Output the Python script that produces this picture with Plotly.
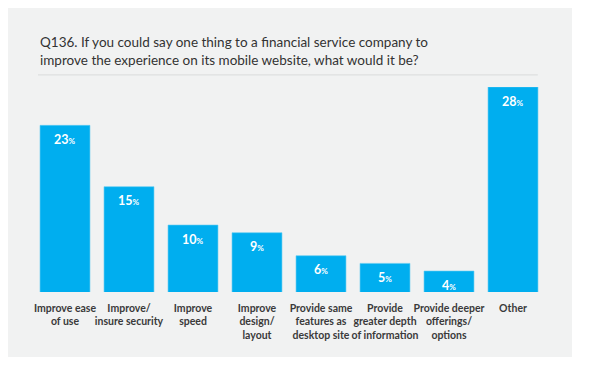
import plotly.graph_objects as go

categories = [
    "Improve ease<br>of use",
    "Improve/<br>insure security",
    "Improve<br>speed",
    "Improve<br>design/<br>layout",
    "Provide same<br>features as<br>desktop site",
    "Provide<br>greater depth<br>of information",
    "Provide deeper<br>offerings/<br>options",
    "Other",
]
values = [23, 15, 10, 9, 6, 5, 4, 28]

title_text = ("Q136. If you could say one thing to a financial service company to<br>"
              "improve the experience on its mobile website, what would it be?")

BAR = "#00AEEF"
PANEL = "#F1F2F2"
FONT = "Lato"

fig = go.Figure()
fig.add_trace(go.Bar(
    x=categories, y=values,
    marker=dict(color=BAR, line=dict(color="#5CCBF2", width=0.6)),
    hoverinfo="skip",
))

# value labels inside bars
for c, v in zip(categories, values):
    fig.add_annotation(
        x=c, y=v, xref="x", yref="y",
        text=f"<b>{v}<span style='font-size:8px'>%</span></b>",
        showarrow=False, yanchor="middle", yshift=-14,
        font=dict(family=FONT, size=12.5, color="white"),
    )

# title
fig.add_annotation(
    x=0.0098, y=1.27, xref="paper", yref="paper",
    xanchor="left", yanchor="top", align="left",
    text=title_text, showarrow=False,
    font=dict(family=FONT, size=13.5, color="#333333"),
)

shapes = [
    dict(type="rect", xref="paper", yref="paper", x0=-0.0488, x1=1.0527,
         y0=-0.317, y1=1.385, fillcolor=PANEL, line=dict(width=0), layer="below"),
    dict(type="line", xref="paper", yref="paper", x0=0.0098, x1=0.986,
         y0=1.059, y1=1.059, line=dict(color="#D9DBDB", width=1), layer="below"),
]

fig.update_layout(
    width=600, height=369,
    margin=dict(l=33, r=55, t=87, b=77, autoexpand=False),
    paper_bgcolor="white", plot_bgcolor="rgba(0,0,0,0)",
    shapes=shapes, bargap=0.22, showlegend=False,
    xaxis=dict(showgrid=False, showline=False, zeroline=False, ticks="",
               tickangle=0, automargin=False, ticklabelstandoff=8,
               tickfont=dict(family=FONT, size=10.5, color="#3a3a3a", weight="bold"),
               fixedrange=True),
    yaxis=dict(visible=False, range=[1.27, 28], fixedrange=True),
)

fig.write_html("out.html",
               config={"displayModeBar": False, "staticPlot": True},
               post_script="document.body.style.margin='0';document.body.style.overflow='hidden';")
